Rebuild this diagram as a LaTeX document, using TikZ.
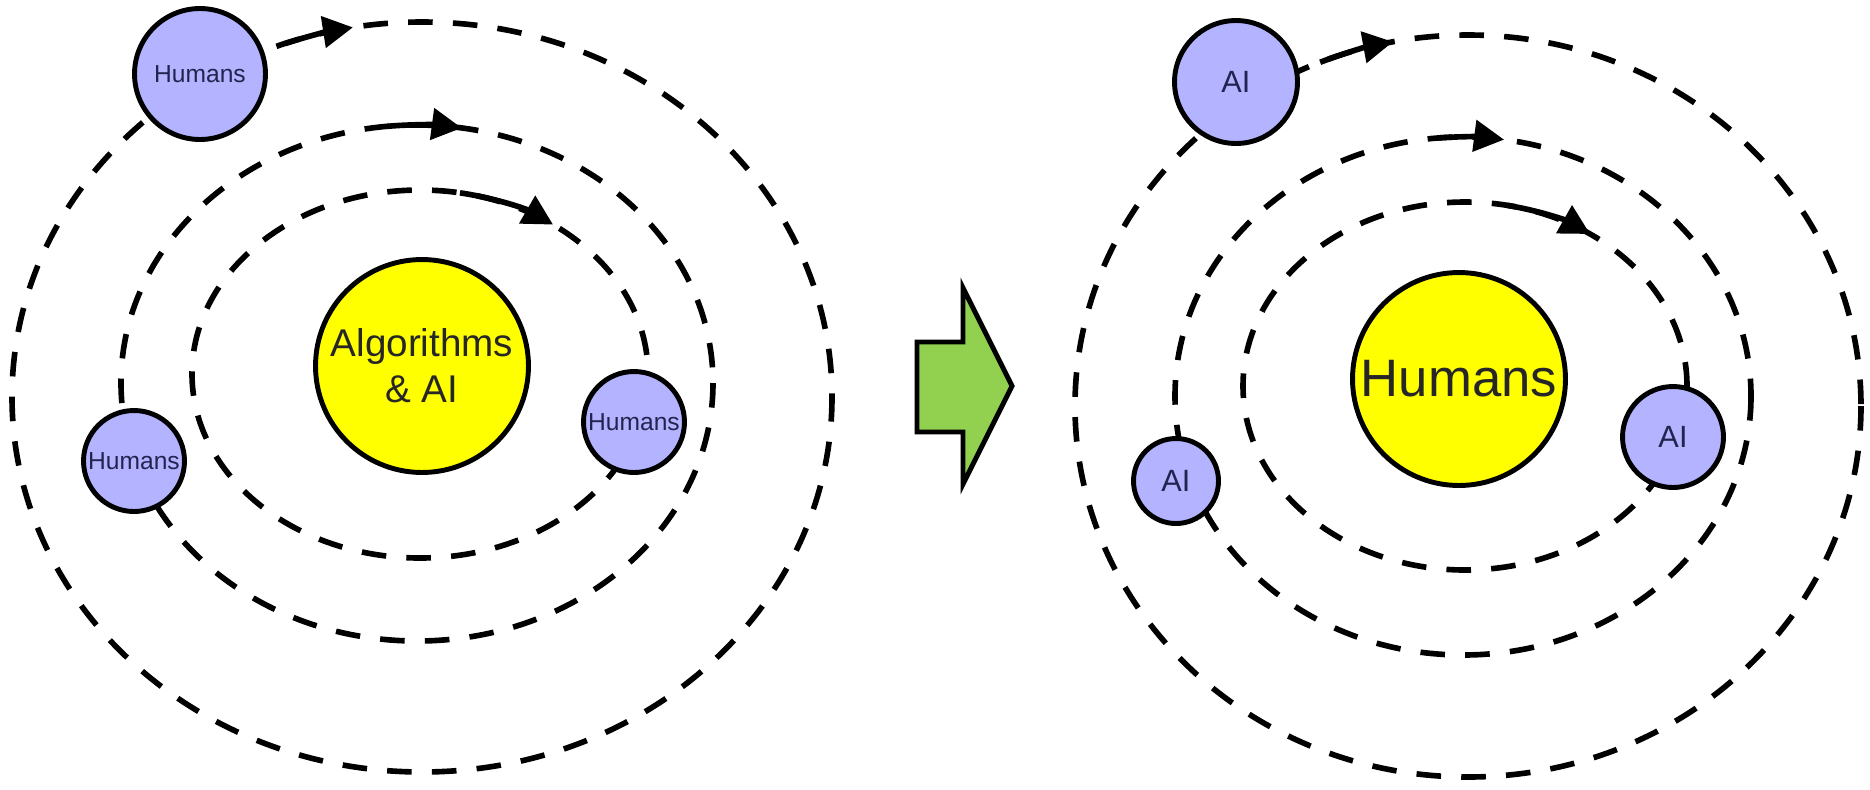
\documentclass[tikz,border=0pt]{standalone}
\usepackage{fontspec}
\setmainfont{Liberation Sans}
\usepackage{xcolor}
\usepackage{tikz}
\usetikzlibrary{arrows.meta}

\definecolor{planetblue}{RGB}{179,179,255}
\definecolor{sunyellow}{RGB}{255,255,0}
\definecolor{shiftgreen}{RGB}{146,208,80}
\definecolor{planettext}{RGB}{35,35,80}

\begin{document}
\begin{tikzpicture}[x = 0.02cm, y = -0.02cm,
    orbit/.style = {line width = 3.2pt, dash pattern = on 14pt off 11.5pt},
    orbitarrow/.style = {line width = 3.2pt, -{Triangle[length = 0.6cm, width = 0.62cm]}},
    planet/.style = {circle, draw, line width = 2.8pt, fill = planetblue, text = planettext, inner sep = 0pt},
    star/.style = {circle, draw, line width = 2.8pt, fill = sunyellow, text = black!85, inner sep = 0pt, align = center}]

    % \draw [help lines, step = 100] (0,0) grid (1870,789);
    \useasboundingbox (0,0) rectangle (1870,789);

    % orbits left
    \draw [orbit] (422,397) ellipse [x radius = 410, y radius = 375];
    \draw [orbit] (417,383) ellipse [x radius = 296, y radius = 258];
    \draw [orbit] (420,374) ellipse [x radius = 228, y radius = 184];

    % orbits right
    \draw [orbit] (1468,406) ellipse [x radius = 393, y radius = 371];
    \draw [orbit] (1463,396) ellipse [x radius = 288, y radius = 259];
    \draw [orbit] (1465,386) ellipse [x radius = 222, y radius = 184];

    % direction left
    \draw [orbitarrow] (422,397) ++(250.5:410 and 375) arc [start angle = 250.5, end angle = 260.3, x radius = 410, y radius = 375];
    \draw [orbitarrow] (417,383) ++(264.4:296 and 258) arc [start angle = 264.4, end angle = 278.7, x radius = 296, y radius = 258];
    \draw [orbitarrow] (420,374) ++(280.1:228 and 184) arc [start angle = 280.1, end angle = 305.7, x radius = 228, y radius = 184];

    % direction right
    \draw [orbitarrow] (1468,406) ++(247.9:393 and 371) arc [start angle = 247.9, end angle = 259.0, x radius = 393, y radius = 371];
    \draw [orbitarrow] (1463,396) ++(265.0:288 and 259) arc [start angle = 265.0, end angle = 278.2, x radius = 288, y radius = 259];
    \draw [orbitarrow] (1465,386) ++(280.9:222 and 184) arc [start angle = 280.9, end angle = 304.3, x radius = 222, y radius = 184];

    % system left
    \node [star, minimum size = 4.26cm, font = \fontsize{22}{26}\selectfont] (algo) at (422,366) {Algorithms\\\& AI};
    \node [planet, minimum size = 2.62cm, font = \fontsize{14}{16}\selectfont] (humansa) at (200,74) {Humans};
    \node [planet, minimum size = 2.02cm, font = \fontsize{14}{16}\selectfont] (humansb) at (134,461) {Humans};
    \node [planet, minimum size = 2.02cm, font = \fontsize{14}{16}\selectfont] (humansc) at (634,422) {Humans};

    % shift
    \filldraw [fill = shiftgreen, line width = 2.8pt, line join = miter] (917,342) -- (963,342) -- (963,288) -- (1012,386) -- (963,484) -- (963,432) -- (917,432) -- cycle;

    % system right
    \node [star, minimum size = 4.26cm, font = \fontsize{30}{34}\selectfont] (humans) at (1459,379) {Humans};
    \node [planet, minimum size = 2.46cm, font = \fontsize{17.5}{20}\selectfont] (aia) at (1236,82) {AI};
    \node [planet, minimum size = 1.7cm, font = \fontsize{17.5}{20}\selectfont] (aib) at (1176,481) {AI};
    \node [planet, minimum size = 2.02cm, font = \fontsize{17.5}{20}\selectfont] (aic) at (1673,437) {AI};

\end{tikzpicture}
\end{document}
